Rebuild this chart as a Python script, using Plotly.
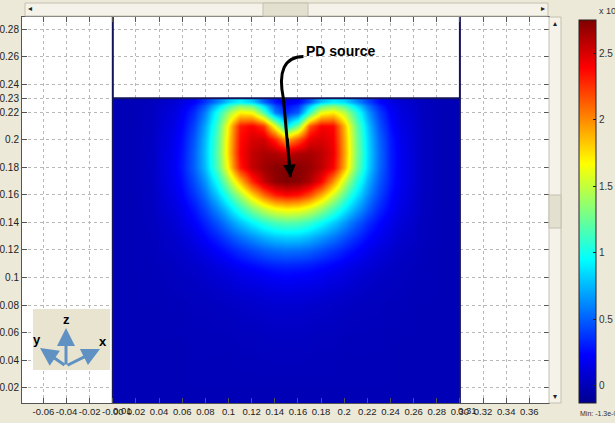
import plotly.graph_objects as go

# ---------------- data ----------------
# field grid (cell edges, metres) of the subdomain x 0..0.30, y 0..0.23
field_x_edges = [0.0, 0.035, 0.045, 0.055, 0.065, 0.075, 0.085, 0.095, 0.105, 0.115, 0.125,
                 0.135, 0.145, 0.155, 0.165, 0.175, 0.185, 0.195, 0.205, 0.215, 0.225,
                 0.235, 0.245, 0.255, 0.265, 0.30]
field_y_edges = [0.0, 0.04, 0.07, 0.09, 0.105, 0.115, 0.125, 0.135, 0.145, 0.155, 0.165,
                 0.175, 0.185, 0.195, 0.205, 0.215, 0.225, 0.23]

# field values (rows bottom -> top)
field_z = [
    [0]*25,
    [0, 0, 0, 0, 0.01, 0.01, 0.01, 0.01, 0.02, 0.02, 0.03, 0.03, 0.03, 0.03, 0.03, 0.02, 0.02, 0.01, 0.01, 0.01, 0.01, 0, 0, 0, 0],
    [0, 0.0, 0.01, 0.01, 0.02, 0.02, 0.03, 0.04, 0.05, 0.06, 0.07, 0.08, 0.08, 0.08, 0.07, 0.06, 0.05, 0.04, 0.03, 0.02, 0.02, 0.01, 0.01, 0.0, 0],
    [0, 0.01, 0.02, 0.03, 0.04, 0.06, 0.08, 0.10, 0.13, 0.15, 0.17, 0.19, 0.20, 0.19, 0.18, 0.16, 0.13, 0.11, 0.08, 0.06, 0.04, 0.03, 0.02, 0.01, 0],
    [0, 0.02, 0.03, 0.05, 0.07, 0.10, 0.14, 0.18, 0.23, 0.27, 0.31, 0.34, 0.35, 0.34, 0.32, 0.28, 0.24, 0.19, 0.15, 0.11, 0.08, 0.05, 0.03, 0.02, 0],
    [0, 0.03, 0.05, 0.07, 0.11, 0.16, 0.22, 0.29, 0.36, 0.43, 0.49, 0.53, 0.55, 0.54, 0.51, 0.45, 0.38, 0.31, 0.24, 0.17, 0.12, 0.08, 0.05, 0.03, 0],
    [0, 0.04, 0.06, 0.10, 0.16, 0.24, 0.33, 0.44, 0.55, 0.65, 0.74, 0.81, 0.84, 0.83, 0.77, 0.68, 0.58, 0.47, 0.36, 0.26, 0.18, 0.12, 0.07, 0.05, 0],
    [0, 0.05, 0.08, 0.14, 0.22, 0.33, 0.46, 0.62, 0.78, 0.93, 1.06, 1.16, 1.20, 1.18, 1.10, 0.97, 0.82, 0.66, 0.50, 0.36, 0.25, 0.16, 0.10, 0.06, 0],
    [0, 0.07, 0.11, 0.18, 0.29, 0.44, 0.62, 0.84, 1.08, 1.32, 1.52, 1.66, 1.72, 1.69, 1.58, 1.40, 1.16, 0.93, 0.71, 0.51, 0.34, 0.22, 0.13, 0.08, 0],
    [0, 0.08, 0.14, 0.23, 0.37, 0.55, 0.80, 1.10, 1.42, 1.78, 2.08, 2.30, 2.38, 2.34, 2.18, 1.90, 1.55, 1.20, 0.90, 0.63, 0.42, 0.26, 0.15, 0.09, 0],
    [0, 0.09, 0.16, 0.27, 0.44, 0.66, 0.98, 1.40, 1.85, 2.28, 2.55, 2.70, 2.75, 2.72, 2.62, 2.40, 1.98, 1.50, 1.08, 0.74, 0.48, 0.30, 0.17, 0.10, 0],
    [0, 0.10, 0.17, 0.30, 0.50, 0.78, 1.17, 1.72, 2.32, 2.56, 2.66, 2.72, 2.75, 2.73, 2.68, 2.58, 2.40, 1.88, 1.28, 0.85, 0.53, 0.31, 0.17, 0.10, 0],
    [0, 0.10, 0.16, 0.29, 0.50, 0.80, 1.20, 1.80, 2.38, 2.56, 2.63, 2.62, 2.55, 2.62, 2.64, 2.58, 2.45, 1.92, 1.32, 0.87, 0.54, 0.31, 0.17, 0.10, 0],
    [0, 0.09, 0.15, 0.27, 0.47, 0.78, 1.18, 1.78, 2.36, 2.50, 2.52, 2.30, 1.90, 2.15, 2.45, 2.50, 2.42, 1.90, 1.30, 0.85, 0.52, 0.30, 0.16, 0.10, 0],
    [0, 0.08, 0.13, 0.24, 0.42, 0.72, 1.12, 1.72, 2.32, 2.40, 2.25, 1.60, 0.90, 1.30, 2.15, 2.40, 2.38, 1.85, 1.25, 0.80, 0.47, 0.26, 0.14, 0.09, 0],
    [0, 0.07, 0.11, 0.20, 0.35, 0.60, 1.00, 1.40, 1.70, 1.65, 1.20, 0.60, 0.35, 0.50, 1.10, 1.62, 1.72, 1.48, 1.08, 0.68, 0.40, 0.22, 0.12, 0.08, 0],
    [0, 0.05, 0.08, 0.13, 0.22, 0.38, 0.58, 0.80, 0.92, 0.80, 0.50, 0.28, 0.15, 0.22, 0.45, 0.76, 0.90, 0.84, 0.63, 0.42, 0.25, 0.14, 0.09, 0.06, 0],
]
z_min, z_max = -0.13, 2.75

# subdomain boundary (metres)
domain_left, domain_right, domain_top = 0.0, 0.30, 0.23

# axes ticks
x_ticks = [-0.06, -0.04, -0.02, 0.0, 0.02, 0.04, 0.06, 0.08, 0.1, 0.12, 0.14, 0.16, 0.18,
           0.2, 0.22, 0.24, 0.26, 0.28, 0.3, 0.32, 0.34, 0.36]
x_tick_text = ["-0.06", "-0.04", "-0.02", "-0.00", "0.02", "0.04", "0.06", "0.08", "0.1",
               "0.12", "0.14", "0.16", "0.18", "0.2", "0.22", "0.24", "0.26", "0.28",
               "0.30", "0.32", "0.34", "0.36"]
y_ticks = [0.02, 0.04, 0.06, 0.08, 0.1, 0.12, 0.14, 0.16, 0.18, 0.2, 0.22, 0.23, 0.24, 0.26, 0.28]
y_tick_text = ["0.02", "0.04", "0.06", "0.08", "0.1", "0.12", "0.14", "0.16", "0.18", "0.2",
               "0.22", "0.23", "0.24", "0.26", "0.28"]
cbar_ticks = [0, 0.5, 1, 1.5, 2, 2.5]
cbar_tick_text = ["0", "0.5", "1", "1.5", "2", "2.5"]

# ---------------- figure ----------------
W, H = 615, 423
ML, MR, MT, MB = 22, 66, 17, 20
PW, PH = W - ML - MR, H - MT - MB

def px(xp):  # page px -> paper x
    return (xp - ML) / PW

def py(yp):  # page px -> paper y
    return (H - MB - yp) / PH

jet = [[0, "rgb(0,0,143)"], [0.125, "rgb(0,0,255)"], [0.375, "rgb(0,255,255)"],
       [0.625, "rgb(255,255,0)"], [0.875, "rgb(255,0,0)"], [1, "rgb(128,0,0)"]]

BEIGE = "rgb(236,233,216)"
FONT = "Liberation Sans, Arial, sans-serif"

fig = go.Figure()
fig.add_trace(go.Heatmap(
    x=field_x_edges, y=field_y_edges, z=field_z, zmin=z_min, zmax=z_max,
    zsmooth="best", colorscale=jet, hoverinfo="skip",
    colorbar=dict(x=px(579), xanchor="left", thickness=17, len=383, lenmode="pixels",
                  y=0, yanchor="bottom", ypad=0, xpad=0, outlinewidth=1, outlinecolor="#222",
                  tickvals=cbar_ticks, ticktext=cbar_tick_text, ticks="inside", ticklen=3,
                  tickcolor="#222", tickfont=dict(size=10, color="#333", family=FONT)),
))

# subdomain boundaries
fig.add_trace(go.Scatter(
    x=[domain_left, domain_left, None, domain_right, domain_right, None, domain_left, domain_right],
    y=[-0.1, 0.4, None, -0.1, 0.4, None, domain_top, domain_top],
    mode="lines", line=dict(color="#14145a", width=2), hoverinfo="skip", showlegend=False))

fig.update_xaxes(range=[-0.0785, 0.377], tickvals=x_ticks, ticktext=x_tick_text,
                 ticks="inside", ticklen=5, tickcolor="#555", showgrid=True,
                 gridcolor="#b8b8b8", griddash="dot", gridwidth=1, showline=True,
                 linecolor="#555", linewidth=1, mirror="ticks", zeroline=False,
                 automargin=False, tickangle=0,
                 tickfont=dict(size=9.5, color="#222", family=FONT))
fig.update_yaxes(range=[0.009, 0.289], tickvals=y_ticks, ticktext=y_tick_text,
                 ticks="inside", ticklen=5, tickcolor="#555", showgrid=True,
                 gridcolor="#b8b8b8", griddash="dot", gridwidth=1, showline=True,
                 linecolor="#555", linewidth=1, mirror="ticks", zeroline=False,
                 automargin=False,
                 tickfont=dict(size=10, color="#222", family=FONT))

shapes = []
annotations = []

# PD source leader line
shapes.append(dict(type="path", xref="x", yref="y",
                   path="M 0.1648,0.2604 Q 0.1400,0.2600 0.1475,0.2293 L 0.1535,0.1728",
                   line=dict(color="black", width=3)))
annotations.append(dict(x=0.1535, y=0.1728, xref="x", yref="y", text="", showarrow=True,
                        ax=-3, ay=-40, arrowhead=2, arrowsize=1, arrowwidth=2.5,
                        arrowcolor="black"))
annotations.append(dict(x=0.1655, y=0.2640, xref="x", yref="y", text="<b>PD source</b>",
                        showarrow=False, xanchor="left", yanchor="middle",
                        font=dict(size=14, color="black", family=FONT)))

# axis triad box
shapes.append(dict(type="rect", xref="paper", yref="paper", x0=px(33), x1=px(110),
                   y0=py(370), y1=py(309), fillcolor="rgb(232,228,208)",
                   line=dict(width=0), layer="above"))
TRI = "rgb(95,145,195)"
ox, oy = 66, 366
for tipx, tipy in [(66, 328), (40, 348), (100, 349)]:
    annotations.append(dict(x=px(tipx), y=py(tipy), xref="paper", yref="paper", text="",
                            showarrow=True, ax=ox - tipx, ay=oy - tipy, arrowhead=2,
                            arrowsize=1.2, arrowwidth=3, arrowcolor=TRI))
for lbl, lx, ly in [("z", 66, 319), ("y", 37, 339), ("x", 103, 341)]:
    annotations.append(dict(x=px(lx), y=py(ly), xref="paper", yref="paper",
                            text=f"<b>{lbl}</b>", showarrow=False,
                            xanchor="center", yanchor="middle",
                            font=dict(size=13, color="black", family=FONT)))

# overlapping tick labels at subdomain edges
for txt, xv in [("0.01", 0.0085), ("0.31", 0.3065)]:
    annotations.append(dict(x=xv, y=py(410), xref="x", yref="paper", text=txt,
                            showarrow=False, xanchor="center", yanchor="middle",
                            font=dict(size=9.5, color="#222", family=FONT)))

# colorbar texts
annotations.append(dict(x=px(597), y=py(11), xref="paper", yref="paper", text="x 10",
                        xanchor="left", yanchor="middle", showarrow=False,
                        font=dict(size=9, color="#333", family=FONT)))
annotations.append(dict(x=px(578), y=py(413), xref="paper", yref="paper", text="Min: -1.3e-0",
                        xanchor="left", yanchor="middle", showarrow=False,
                        font=dict(size=7, color="#333", family=FONT)))

# window scrollbars
TRACK = "rgb(244,242,233)"
EDGE = "rgb(196,192,176)"
shapes += [
    dict(type="rect", xref="paper", yref="paper", x0=px(25), x1=px(548), y0=py(16), y1=py(3),
         fillcolor=TRACK, line=dict(color=EDGE, width=1)),
    dict(type="rect", xref="paper", yref="paper", x0=px(263), x1=px(308), y0=py(16), y1=py(3),
         fillcolor="rgb(228,224,207)", line=dict(color=EDGE, width=1)),
    dict(type="rect", xref="paper", yref="paper", x0=px(549), x1=px(561), y0=py(403), y1=py(17),
         fillcolor=TRACK, line=dict(color=EDGE, width=1)),
    dict(type="rect", xref="paper", yref="paper", x0=px(549), x1=px(561), y0=py(228), y1=py(195),
         fillcolor="rgb(228,224,207)", line=dict(color=EDGE, width=1)),
]
for glyph, gx, gy in [("◂", 30, 9), ("▸", 543, 9), ("▴", 555, 23), ("▾", 555, 396)]:
    annotations.append(dict(x=px(gx), y=py(gy), xref="paper", yref="paper", text=glyph,
                            showarrow=False, xanchor="center", yanchor="middle",
                            font=dict(size=8, color="#222", family="DejaVu Sans")))

fig.update_layout(
    width=W, height=H, margin=dict(l=ML, r=MR, t=MT, b=MB, pad=0, autoexpand=False),
    paper_bgcolor=BEIGE, plot_bgcolor="white", showlegend=False,
    shapes=shapes, annotations=annotations,
    font=dict(family=FONT),
)

fig.write_html(
    "out.html",
    config={"displayModeBar": False},
    post_script="document.body.style.margin='0';document.body.style.overflow='hidden';",
)
